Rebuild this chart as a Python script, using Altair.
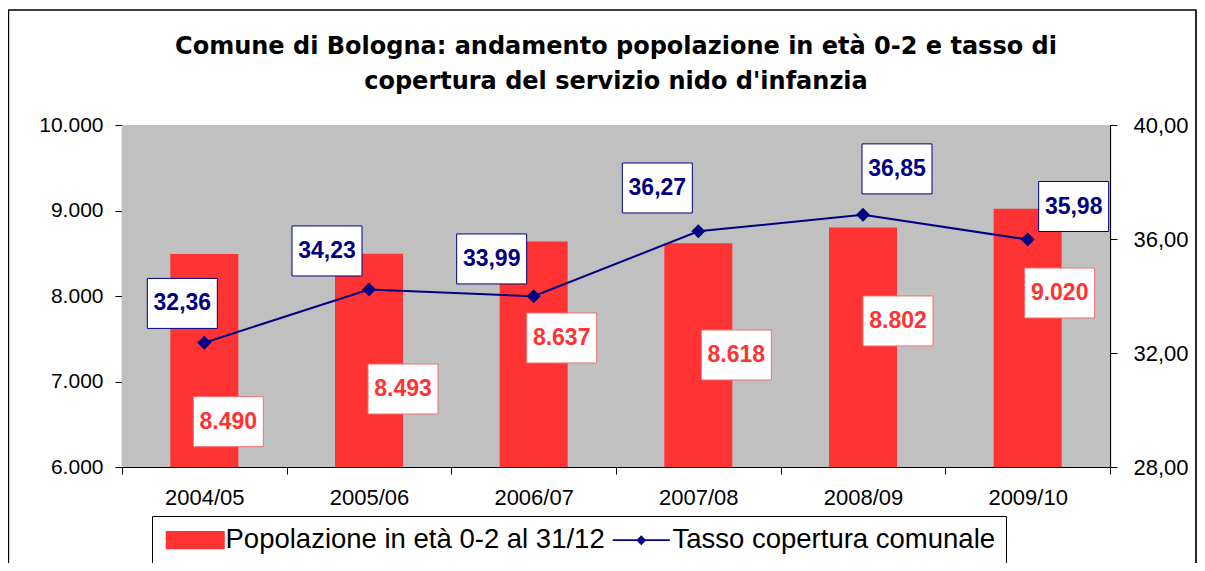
import altair as alt
import pandas as pd

# ---- data ----
seasons = ["2004/05", "2005/06", "2006/07", "2007/08", "2008/09", "2009/10"]
population = [8490, 8493, 8637, 8618, 8802, 9020]
rate = [32.36, 34.23, 33.99, 36.27, 36.85, 35.98]
series_names = ["Popolazione in età 0-2 al 31/12", "Tasso copertura comunale"]

# label placement (value-axis position of each label box, pixel shift from bar centre)
pop_label_pos = [6530, 6912, 7509, 7310, 7708, 8035]
pop_label_dx = [24, 34, 28, 38, 35, 32]
rate_label_pos = [33.74, 35.58, 35.30, 37.79, 38.46, 37.14]
rate_label_dx = [-22, -42, -42, -41, 34, 46]

RED = "#FF3333"
NAVY = "#000080"
FONT = "Liberation Sans"
W, H = 988, 342
HALF_BAND = W / len(seasons) / 2  # xOffset counts from the band start

bars_df = pd.DataFrame({"season": seasons, "pop": population})
line_df = pd.DataFrame({"season": seasons, "rate": rate})
pop_lab_df = pd.DataFrame({
    "season": seasons,
    "pos": pop_label_pos,
    "dx": pop_label_dx,
    "txt": [f"{v:,}".replace(",", ".") for v in population],
})
rate_lab_df = pd.DataFrame({
    "season": seasons,
    "pos": rate_label_pos,
    "dx": rate_label_dx,
    "txt": [f"{v:.2f}".replace(".", ",") for v in rate],
})
legend_df = pd.DataFrame({"serie": series_names})

BOX = "M-1,-0.714L1,-0.714L1,0.714L-1,0.714Z"
LEG_RECT = "M-1,-0.92L4.9,-0.92L4.9,0.92L-1,0.92Z"
LEG_LINE = "M-1,-0.09L4.7,-0.09L4.7,0.09L-1,0.09ZM1.85,-0.5L2.35,0L1.85,0.5L1.35,0Z"

x_enc = alt.X(
    "season:N",
    sort=seasons,
    scale=alt.Scale(domain=seasons, paddingInner=0, paddingOuter=0),
    axis=alt.Axis(
        title=None, labelAngle=0, tickBand="extent", tickSize=7, labelPadding=13,
        labelFontSize=22, labelFont=FONT, labelColor="black", domainColor="black",
        tickColor="black", grid=False, domainWidth=1.2,
    ),
)
x_off = alt.XOffset("off:Q", scale=None)

left_scale = alt.Scale(domain=[6000, 10000], nice=False, zero=False)
right_scale = alt.Scale(domain=[28, 40], nice=False, zero=False)

plot_bg = alt.Chart(legend_df).mark_rect(color="#C0C0C0").encode(
    x=alt.value(0), x2=alt.value(W), y=alt.value(0), y2=alt.value(H)
)

bars = alt.Chart(bars_df).mark_bar(color=RED, size=68).encode(
    x=x_enc,
    y=alt.Y(
        "pop:Q", scale=left_scale,
        axis=alt.Axis(
            title=None, values=[6000, 7000, 8000, 9000, 10000],
            labelExpr="replace(format(datum.value, ',.0f'), ',', '.')",
            tickSize=7, labelPadding=12, labelFontSize=21, labelFont=FONT,
            labelColor="black", domainColor="black", tickColor="black",
            grid=False, orient="left", domainWidth=1.2,
        ),
    ),
    y2=alt.datum(6000),
)

pop_boxes = alt.Chart(pop_lab_df).transform_calculate(
    off=f"datum.dx + {HALF_BAND}"
).mark_point(
    shape=BOX, size=4900, filled=True, fill="white", stroke="#F07070",
    strokeWidth=1, opacity=1,
).encode(
    x=x_enc, xOffset=x_off,
    y=alt.Y("pos:Q", scale=left_scale, axis=None),
)

pop_text = alt.Chart(pop_lab_df).transform_calculate(
    off=f"datum.dx + {HALF_BAND}"
).mark_text(
    font=FONT, fontSize=23, fontWeight="bold", color=RED, align="center",
    baseline="middle",
).encode(
    x=x_enc, xOffset=x_off,
    y=alt.Y("pos:Q", scale=left_scale, axis=None),
    text="txt:N",
)

line = alt.Chart(line_df).mark_line(color=NAVY, strokeWidth=2).encode(
    x=x_enc,
    y=alt.Y(
        "rate:Q", scale=right_scale,
        axis=alt.Axis(
            title=None, values=[28, 32, 36, 40],
            labelExpr="replace(format(datum.value, '.2f'), '.', ',')",
            tickSize=7, labelPadding=16, labelFontSize=22, labelFont=FONT,
            labelColor="black", domainColor="black", tickColor="black",
            grid=False, orient="right", domainWidth=1.2,
        ),
    ),
)

points = alt.Chart(line_df).mark_point(
    shape="diamond", filled=True, size=196, color=NAVY, opacity=1
).encode(
    x=x_enc,
    y=alt.Y("rate:Q", scale=right_scale, axis=None),
)

rate_boxes = alt.Chart(rate_lab_df).transform_calculate(
    off=f"datum.dx + {HALF_BAND}"
).mark_point(
    shape=BOX, size=4900, filled=True, fill="white", stroke=NAVY,
    strokeWidth=1, opacity=1,
).encode(
    x=x_enc, xOffset=x_off,
    y=alt.Y("pos:Q", scale=right_scale, axis=None),
)

rate_text = alt.Chart(rate_lab_df).transform_calculate(
    off=f"datum.dx + {HALF_BAND}"
).mark_text(
    font=FONT, fontSize=23, fontWeight="bold", color=NAVY, align="center",
    baseline="middle",
).encode(
    x=x_enc, xOffset=x_off,
    y=alt.Y("pos:Q", scale=right_scale, axis=None),
    text="txt:N",
)

leg_props = dict(
    orient="none", legendX=30, legendY=391, direction="horizontal", title=None,
    labelFontSize=27.5, labelFont=FONT, labelColor="black", symbolSize=400,
    symbolStrokeWidth=0, symbolOpacity=1, labelOffset=36, columnPadding=4,
    padding=10, strokeColor="black", fillColor="white", labelLimit=700,
)

legend_layer = alt.Chart(legend_df).mark_point(filled=True, opacity=0).encode(
    color=alt.Color(
        "serie:N", scale=alt.Scale(domain=series_names, range=[RED, NAVY]),
        legend=alt.Legend(**leg_props),
    ),
    shape=alt.Shape(
        "serie:N", scale=alt.Scale(domain=series_names, range=[LEG_RECT, LEG_LINE]),
        legend=alt.Legend(**leg_props),
    ),
)

frame = alt.Chart(legend_df).mark_rect(
    fill="white", fillOpacity=0, stroke="black", strokeWidth=1.2
).encode(
    x=alt.value(-113.5), x2=alt.value(1074), y=alt.value(-115), y2=alt.value(475)
)

chart = alt.layer(
    plot_bg, bars, pop_boxes, pop_text, line, points, rate_boxes, rate_text,
    legend_layer, frame
).resolve_scale(
    y="independent"
).properties(
    width=W,
    height=H,
    background="white",
    padding={"left": 114, "top": 117, "right": 87, "bottom": 96},
    autosize=alt.AutoSizeParams(type="none"),
    title=alt.Title(
        ["Comune di Bologna: andamento popolazione in età 0-2 e tasso di",
         "copertura del servizio nido d'infanzia"],
        font="DejaVu Sans", fontSize=24, fontWeight="bold", color="black",
        anchor="middle", lineHeight=35, offset=-85, frame="group",
    ),
).configure_view(
    fill="#C0C0C0", stroke="#808080", strokeWidth=1
)

chart.save("out.html", embed_options={"renderer": "svg", "actions": False})
